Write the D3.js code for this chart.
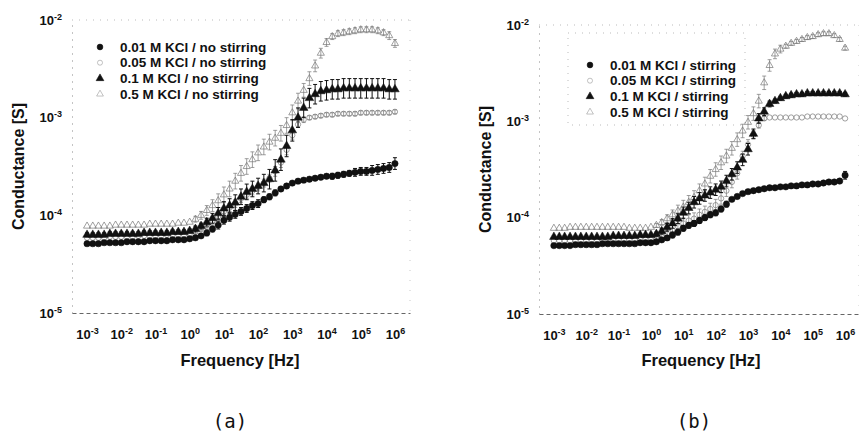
<!DOCTYPE html>
<html>
<head>
<meta charset="utf-8">
<script src="https://cdn.jsdelivr.net/npm/d3@7.9.0/dist/d3.min.js"></script>
<style>
  body { margin: 0; background: #fff; }
  text { font-family: "Liberation Sans", Arial, sans-serif; font-weight: bold; fill: #111; }
  .letter { font-family: "DejaVu Sans Mono", monospace; font-weight: normal; }
</style>
</head>
<body>
<svg id="chart" width="859" height="436"></svg>
<script>
// frequency sweep, 6 points per decade
const freqs = [0.001, 0.00147, 0.00215, 0.00316, 0.00464, 0.00681,
  0.01, 0.0147, 0.0215, 0.0316, 0.0464, 0.0681,
  0.1, 0.147, 0.215, 0.316, 0.464, 0.681,
  1, 1.47, 2.15, 3.16, 4.64, 6.81,
  10, 14.7, 21.5, 31.6, 46.4, 68.1,
  100, 147, 215, 316, 464, 681,
  1000, 1470, 2150, 3160, 4640, 6810,
  1e4, 1.47e4, 2.15e4, 3.16e4, 4.64e4, 6.81e4,
  1e5, 1.47e5, 2.15e5, 3.16e5, 4.64e5, 6.81e5,
  1e6];

const xTicks = [1e-3, 1e-2, 1e-1, 1e0, 1e1, 1e2, 1e3, 1e4, 1e5, 1e6];
const yTicks = [1e-5, 1e-4, 1e-3, 1e-2];
const concLabels = ['0.01 M KCl', '0.05 M KCl', '0.1 M KCl', '0.5 M KCl'];

// log10 of conductance [S]
// (a) no stirring
const noStir001 = [-4.29,-4.29,-4.29,-4.28,-4.28,-4.28,-4.28,-4.27,-4.27,-4.27,-4.27,-4.26,-4.26,-4.26,-4.26,-4.25,-4.25,-4.25,-4.24,
  -4.23,-4.21,-4.18,-4.14,-4.10,-4.05,-4.02,-3.99,-3.96,-3.93,-3.90,-3.88,-3.84,-3.81,-3.77,-3.73,-3.70,-3.67,
  -3.65,-3.64,-3.63,-3.62,-3.61,-3.60,-3.60,-3.59,-3.58,-3.57,-3.56,-3.55,-3.55,-3.54,-3.53,-3.52,-3.51,-3.47];
const noStir005 = [-4.23,-4.23,-4.23,-4.23,-4.22,-4.22,-4.22,-4.22,-4.22,-4.21,-4.21,-4.21,-4.21,-4.21,-4.20,-4.20,-4.20,-4.20,-4.19,
  -4.17,-4.14,-4.10,-4.06,-4.01,-3.96,-3.92,-3.88,-3.83,-3.79,-3.75,-3.71,-3.67,-3.62,-3.55,-3.46,-3.33,-3.18,
  -3.07,-3.02,-3.00,-2.99,-2.98,-2.97,-2.97,-2.96,-2.96,-2.96,-2.96,-2.95,-2.95,-2.95,-2.95,-2.95,-2.95,-2.94];
const noStir01 = [-4.20,-4.20,-4.20,-4.20,-4.19,-4.19,-4.19,-4.19,-4.19,-4.19,-4.18,-4.18,-4.18,-4.18,-4.18,-4.17,-4.17,-4.17,-4.16,
  -4.14,-4.11,-4.07,-4.03,-3.98,-3.93,-3.90,-3.87,-3.81,-3.76,-3.73,-3.70,-3.67,-3.63,-3.54,-3.43,-3.29,-3.13,
  -3.00,-2.90,-2.80,-2.76,-2.73,-2.72,-2.71,-2.71,-2.70,-2.70,-2.70,-2.70,-2.70,-2.70,-2.70,-2.70,-2.71,-2.71];
const noStir05 = [-4.11,-4.11,-4.11,-4.11,-4.11,-4.10,-4.10,-4.10,-4.10,-4.10,-4.10,-4.09,-4.09,-4.09,-4.09,-4.09,-4.08,-4.08,-4.07,
  -4.04,-4.00,-3.95,-3.90,-3.85,-3.79,-3.73,-3.65,-3.57,-3.50,-3.43,-3.36,-3.30,-3.25,-3.21,-3.16,-3.08,-2.95,
  -2.83,-2.72,-2.60,-2.47,-2.34,-2.23,-2.17,-2.14,-2.13,-2.12,-2.11,-2.10,-2.10,-2.10,-2.11,-2.13,-2.16,-2.24];

// (b) stirring
const stir001 = [-4.29,-4.29,-4.29,-4.29,-4.28,-4.28,-4.28,-4.28,-4.28,-4.27,-4.27,-4.27,-4.27,-4.27,-4.27,-4.27,-4.26,-4.26,-4.26,
  -4.25,-4.23,-4.21,-4.18,-4.15,-4.11,-4.08,-4.06,-4.03,-4.00,-3.97,-3.95,-3.91,-3.86,-3.81,-3.78,-3.75,-3.73,
  -3.72,-3.71,-3.70,-3.69,-3.69,-3.68,-3.68,-3.67,-3.67,-3.66,-3.66,-3.65,-3.65,-3.64,-3.63,-3.63,-3.62,-3.56];
const stir005 = [-4.24,-4.24,-4.24,-4.24,-4.24,-4.24,-4.24,-4.23,-4.23,-4.23,-4.23,-4.23,-4.23,-4.23,-4.23,-4.23,-4.23,-4.23,-4.23,
  -4.22,-4.20,-4.17,-4.13,-4.09,-4.06,-4.03,-4.01,-3.97,-3.94,-3.91,-3.87,-3.80,-3.72,-3.63,-3.54,-3.36,-3.24,
  -3.14,-3.04,-2.97,-2.96,-2.96,-2.96,-2.96,-2.96,-2.96,-2.96,-2.95,-2.95,-2.95,-2.95,-2.95,-2.95,-2.95,-2.97];
const stir01 = [-4.20,-4.20,-4.20,-4.20,-4.20,-4.20,-4.20,-4.20,-4.20,-4.20,-4.20,-4.19,-4.19,-4.19,-4.19,-4.19,-4.18,-4.18,-4.18,
  -4.17,-4.14,-4.10,-4.06,-4.01,-3.95,-3.90,-3.84,-3.80,-3.77,-3.74,-3.71,-3.68,-3.62,-3.55,-3.48,-3.40,-3.29,
  -3.13,-2.97,-2.90,-2.82,-2.79,-2.76,-2.74,-2.73,-2.72,-2.72,-2.71,-2.71,-2.71,-2.71,-2.71,-2.71,-2.71,-2.72];
const stir05 = [-4.11,-4.11,-4.11,-4.10,-4.10,-4.10,-4.10,-4.10,-4.10,-4.10,-4.10,-4.10,-4.10,-4.10,-4.11,-4.11,-4.11,-4.11,-4.10,
  -4.08,-4.05,-4.01,-3.97,-3.93,-3.89,-3.84,-3.79,-3.72,-3.65,-3.57,-3.50,-3.43,-3.36,-3.28,-3.19,-3.10,-3.01,
  -2.92,-2.79,-2.60,-2.42,-2.30,-2.25,-2.22,-2.19,-2.17,-2.15,-2.13,-2.12,-2.10,-2.09,-2.09,-2.11,-2.15,-2.24];

// error bar half widths, in log10 units
const noStir001Err = [0.01,0.01,0.01,0.01,0.01,0.01,0.01,0.01,0.01,0.01,0.01,0.01,0.01,0.01,0.01,0.01,0.01,0.01,0.01,
  0.02,0.02,0.03,0.03,0.04,0.04,0.04,0.04,0.04,0.04,0.04,0.04,0.03,0.03,0.03,0.02,0.02,0.02,
  0.02,0.02,0.02,0.02,0.02,0.02,0.03,0.03,0.03,0.03,0.04,0.04,0.04,0.05,0.05,0.05,0.05,0.06];
const noStir005Err = [0.01,0.01,0.01,0.01,0.01,0.01,0.01,0.01,0.01,0.01,0.01,0.01,0.01,0.01,0.01,0.01,0.01,0.01,0.01,
  0.02,0.02,0.03,0.03,0.04,0.04,0.04,0.04,0.04,0.04,0.04,0.04,0.04,0.04,0.05,0.05,0.05,0.04,
  0.03,0.03,0.02,0.02,0.02,0.02,0.02,0.02,0.02,0.02,0.02,0.02,0.02,0.02,0.02,0.02,0.02,0.02];
const noStir01Err = [0.02,0.02,0.02,0.02,0.02,0.02,0.02,0.02,0.02,0.02,0.02,0.02,0.02,0.02,0.02,0.02,0.02,0.02,0.02,
  0.03,0.03,0.04,0.05,0.06,0.07,0.07,0.08,0.08,0.08,0.08,0.08,0.09,0.10,0.11,0.11,0.11,0.11,
  0.10,0.10,0.10,0.10,0.10,0.10,0.10,0.10,0.10,0.10,0.10,0.10,0.10,0.10,0.10,0.10,0.10,0.10];
const noStir05Err = [0.01,0.01,0.01,0.01,0.01,0.01,0.01,0.01,0.01,0.01,0.01,0.01,0.01,0.01,0.01,0.01,0.01,0.01,0.01,
  0.03,0.04,0.05,0.06,0.07,0.08,0.08,0.08,0.08,0.08,0.08,0.08,0.08,0.08,0.08,0.08,0.08,0.08,
  0.08,0.07,0.07,0.06,0.05,0.04,0.03,0.03,0.03,0.03,0.03,0.03,0.03,0.03,0.03,0.03,0.04,0.04];
const stir001Err = [0.01,0.01,0.01,0.01,0.01,0.01,0.01,0.01,0.01,0.01,0.01,0.01,0.01,0.01,0.01,0.01,0.01,0.01,0.01,
  0.02,0.02,0.02,0.03,0.03,0.03,0.03,0.03,0.03,0.03,0.03,0.03,0.03,0.03,0.02,0.02,0.02,0.01,
  0.01,0.01,0.01,0.01,0.01,0.01,0.01,0.01,0.01,0.01,0.01,0.01,0.01,0.01,0.01,0.01,0.01,0.04];
const stir005Err = [0.01,0.01,0.01,0.01,0.01,0.01,0.01,0.01,0.01,0.01,0.01,0.01,0.01,0.01,0.01,0.01,0.01,0.01,0.01,
  0.02,0.03,0.04,0.05,0.05,0.06,0.06,0.06,0.06,0.06,0.06,0.06,0.06,0.06,0.06,0.06,0.05,0.05,
  0.04,0.03,0.02,0.01,0.01,0.01,0.01,0.01,0.01,0.01,0.01,0.01,0.01,0.01,0.01,0.01,0.01,0.01];
const stir01Err = [0.01,0.01,0.01,0.01,0.01,0.01,0.01,0.01,0.01,0.01,0.01,0.01,0.01,0.01,0.01,0.01,0.01,0.01,0.01,
  0.02,0.03,0.04,0.05,0.05,0.06,0.06,0.06,0.06,0.06,0.06,0.06,0.06,0.06,0.06,0.06,0.06,0.06,
  0.05,0.05,0.04,0.03,0.02,0.02,0.02,0.02,0.02,0.02,0.02,0.02,0.02,0.02,0.02,0.02,0.02,0.02];
const stir05Err = [0.01,0.01,0.01,0.01,0.01,0.01,0.01,0.01,0.01,0.01,0.01,0.01,0.01,0.01,0.01,0.01,0.01,0.01,0.01,
  0.02,0.03,0.04,0.05,0.06,0.07,0.07,0.07,0.07,0.07,0.07,0.07,0.07,0.07,0.07,0.07,0.07,0.07,
  0.07,0.07,0.07,0.06,0.05,0.04,0.02,0.02,0.02,0.02,0.02,0.02,0.02,0.02,0.02,0.02,0.02,0.02];

const svg = d3.select('#chart');

// marker style per concentration: filled circle, open circle, filled triangle, open triangle
const markerShape = [d3.symbolCircle, d3.symbolCircle, d3.symbolTriangle, d3.symbolTriangle];
const markerFilled = [true, false, true, false];

const panels = [
  {
    letter: '(a)', suffix: 'no stirring',
    values: [noStir001, noStir005, noStir01, noStir05],
    errors: [noStir001Err, noStir005Err, noStir01Err, noStir05Err],
    left: 72, right: 410, top: 20, bottom: 313,
    xMin: -3.44, xMax: 6.44, titleX: 240, letterX: 230,
    yLabelX: 18, legendX: 100, legendY: 47, legendStep: 15.7,
    box: null
  },
  {
    letter: '(b)', suffix: 'stirring',
    values: [stir001, stir005, stir01, stir05],
    errors: [stir001Err, stir005Err, stir01Err, stir05Err],
    left: 539, right: 859, top: 25, bottom: 314,
    xMin: -3.46, xMax: 6.43, titleX: 701, letterX: 694,
    yLabelX: 485, legendX: 590, legendY: 65, legendStep: 15.7,
    box: [568, 33, 745, 125]
  }
];

function writePower(sel) {
  sel.each(function(d) {
    const t = d3.select(this);
    const exp = Math.round(Math.log10(d));
    t.text(null);
    t.append('tspan').text('10');
    t.append('tspan').attr('dy', -5).attr('font-size', 9).text(String(exp));
  });
}

panels.forEach((p) => {
  const g = svg.append('g');

  let x = d3.scaleLog()
    .domain([Math.pow(10, p.xMin), Math.pow(10, p.xMax)])
    .range([p.left, p.right]);
  let y = d3.scaleLog()
    .domain([1e-5, 1e-2])
    .range([p.bottom, p.top]);

  // faint frame (scanned dotted lines)
  g.append('line').attr('x1', p.left).attr('x2', p.right).attr('y1', p.top).attr('y2', p.top)
    .attr('stroke', '#aaa').attr('stroke-width', 0.8).attr('stroke-dasharray', '1,6');
  g.append('line').attr('x1', p.right).attr('x2', p.right).attr('y1', p.top).attr('y2', p.bottom)
    .attr('stroke', '#bbb').attr('stroke-width', 0.8).attr('stroke-dasharray', '1,9');

  if (p.box) {
    g.append('rect')
      .attr('x', p.box[0]).attr('y', p.box[1])
      .attr('width', p.box[2] - p.box[0]).attr('height', p.box[3] - p.box[1])
      .attr('fill', 'none').attr('stroke', '#aaa').attr('stroke-width', 0.8)
      .attr('stroke-dasharray', '1,6');
  }

  // x axis
  const xAxis = g.append('g')
    .attr('transform', `translate(0,${p.bottom})`)
    .call(d3.axisBottom(x).tickValues(xTicks).tickSize(0).tickSizeOuter(0).tickPadding(17));
  xAxis.select('.domain').attr('stroke', '#555').attr('stroke-dasharray', '4,3').attr('stroke-width', 0.9);
  xAxis.selectAll('text').attr('font-size', 13).attr('fill', '#111').call(writePower);

  // y axis
  const yAxis = g.append('g')
    .attr('transform', `translate(${p.left},0)`)
    .call(d3.axisLeft(y).tickValues(yTicks).tickSize(0).tickSizeOuter(0).tickPadding(10));
  yAxis.select('.domain').attr('stroke', '#888').attr('stroke-dasharray', '1,6').attr('stroke-width', 1);
  yAxis.selectAll('text').attr('font-size', 13).attr('fill', '#111').call(writePower);

  // axis titles
  g.append('text')
    .attr('x', p.titleX).attr('y', 360).attr('dy', '0.35em')
    .attr('text-anchor', 'middle').attr('font-size', 16.5)
    .text('Frequency [Hz]');
  g.append('text')
    .attr('transform', `translate(${p.yLabelX},${(p.top + p.bottom) / 2}) rotate(-90)`)
    .attr('dy', '0.35em')
    .attr('text-anchor', 'middle').attr('font-size', 16)
    .text('Conductance [S]');

  // series: open markers first, filled on top
  const order = [3, 1, 2, 0];
  order.forEach((s) => {
    const vals = p.values[s];
    const errs = p.errors[s];
    const filled = markerFilled[s];
    const col = filled ? '#111' : '#777';
    const pts = freqs.map((f, i) => ({ f: f, v: vals[i], e: errs[i] || 0 }));

    const eb = g.append('g').attr('stroke', col).attr('stroke-width', filled ? 1 : 0.7);
    pts.forEach((d) => {
      const cx = x(d.f);
      const yHi = y(Math.pow(10, d.v + d.e));
      const yLo = y(Math.pow(10, d.v - d.e));
      if (yLo - yHi < 2) return;
      eb.append('line').attr('x1', cx).attr('x2', cx).attr('y1', yHi).attr('y2', yLo);
      eb.append('line').attr('x1', cx - 2).attr('x2', cx + 2).attr('y1', yHi).attr('y2', yHi);
      eb.append('line').attr('x1', cx - 2).attr('x2', cx + 2).attr('y1', yLo).attr('y2', yLo);
    });

    const sym = d3.symbol().type(markerShape[s]).size(filled ? 32 : 22);
    g.append('g').selectAll('path')
      .data(pts)
      .join('path')
      .attr('d', sym)
      .attr('transform', (d) => `translate(${x(d.f)},${y(Math.pow(10, d.v))})`)
      .attr('fill', filled ? '#111' : 'none')
      .attr('stroke', col)
      .attr('stroke-width', filled ? 0.5 : 0.7);
  });

  // legend
  concLabels.forEach((lab, s) => {
    const ly = p.legendY + s * p.legendStep;
    const filled = markerFilled[s];
    g.append('path')
      .attr('d', d3.symbol().type(markerShape[s]).size(filled ? 26 : 20)())
      .attr('transform', `translate(${p.legendX},${ly})`)
      .attr('fill', filled ? '#111' : 'none')
      .attr('stroke', filled ? '#111' : '#999')
      .attr('stroke-width', 0.6);
    g.append('text')
      .attr('x', p.legendX + 20).attr('y', ly).attr('dy', '0.35em')
      .attr('font-size', 13.5)
      .text(`${lab} / ${p.suffix}`);
  });

  // panel letter
  g.append('text')
    .attr('class', 'letter')
    .attr('x', p.letterX).attr('y', 421).attr('dy', '0.35em')
    .attr('text-anchor', 'middle').attr('font-size', 19)
    .text(p.letter);
});
</script>
</body>
</html>
